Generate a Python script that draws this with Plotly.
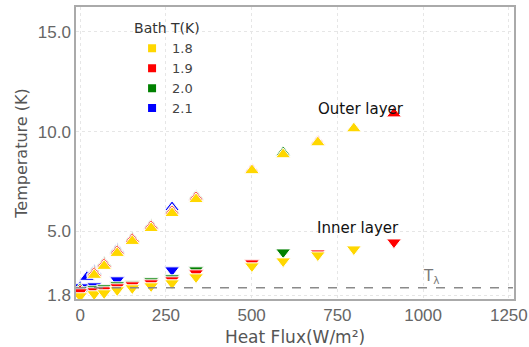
import plotly.graph_objects as go

# Bath temperatures (K)
baths = ["1.8", "1.9", "2.0", "2.1"]
colors = {"1.8": "#FFD700", "1.9": "#FF0000", "2.0": "#008000", "2.1": "#0000FF"}

# Heat flux (W/m^2) per bath temperature
flux_18 = [0, 41, 70, 108, 152, 207, 268, 338, 501, 592, 693, 798]
outer_18 = [None, 2.8, 3.25, 3.9, 4.5, 5.15, 5.9, 6.6, 8.05, 8.85, 9.45, 10.15]
inner_18 = [1.75, 1.85, 1.9, 2.05, 2.15, 2.25, 2.4, 2.7, 3.25, 3.5, 3.8, 4.1]

flux_19 = [0, 41, 70, 108, 152, 207, 268, 338, 501, 693, 915]
outer_19 = [2.0, 2.9, 3.35, 4.0, 4.6, 5.25, 6.0, 6.7, 8.1, 9.5, 10.9]
inner_19 = [1.95, 2.0, 2.05, 2.2, 2.3, 2.4, 2.55, 2.9, 3.4, 3.9, 4.45]

flux_20 = [0, 41, 70, 108, 152, 207, 268, 338, 592]
outer_20 = [2.1, 2.95, 3.4, 4.05, 4.65, 5.3, 6.05, 6.75, 8.95]
inner_20 = [2.05, 2.1, 2.15, 2.3, 2.35, 2.5, 2.65, 3.05, 3.95]

flux_21 = [0, 20, 41, 108, 268]
outer_21 = [2.2, 2.7, 3.0, 4.1, 6.2]
inner_21 = [2.2, 2.2, 2.25, 2.55, 3.05]

data = {
    "1.8": (flux_18, outer_18, inner_18),
    "1.9": (flux_19, outer_19, inner_19),
    "2.0": (flux_20, outer_20, inner_20),
    "2.1": (flux_21, outer_21, inner_21),
}

T_lambda = 2.17
x_ticks = [0, 250, 500, 750, 1000, 1250]
y_ticks = [1.8, 5.0, 10.0, 15.0]
y_tick_text = ["1.8", "5.0", "10.0", "15.0"]

TICKFONT = "Liberation Sans"

fig = go.Figure()

# draw highest bath first so 1.8 K sits on top
for b in reversed(baths):
    fx, fo, fi = data[b]
    fig.add_trace(go.Scatter(
        x=fx, y=fo, mode="markers", showlegend=False,
        marker=dict(symbol="triangle-up", size=13, color=colors[b],
                    line=dict(color="white", width=1))))
    fig.add_trace(go.Scatter(
        x=fx, y=fi, mode="markers", showlegend=False,
        marker=dict(symbol="triangle-down", size=13, color=colors[b],
                    line=dict(color="white", width=1))))

# legend entries with square symbols
for b in baths:
    fig.add_trace(go.Scatter(
        x=[None], y=[None], mode="markers", name=b,
        marker=dict(symbol="square", size=8, color=colors[b])))

# T_lambda dashed line
fig.add_trace(go.Scatter(
    x=[-12, 1262], y=[T_lambda, T_lambda], mode="lines", showlegend=False,
    line=dict(color="#8a8a8a", width=1.5, dash="dash"), hoverinfo="skip"))

fig.add_annotation(x=915, y=10.9, text="Outer layer", showarrow=False,
                   xanchor="right", yanchor="bottom", xshift=12, yshift=-6,
                   font=dict(size=15, color="#111"))
fig.add_annotation(x=798, y=4.1, text="Inner layer", showarrow=False,
                   xanchor="center", yanchor="bottom", xshift=4, yshift=10,
                   font=dict(size=15, color="#111"))
fig.add_annotation(x=1000, y=T_lambda, text="T<sub>λ</sub>", showarrow=False,
                   xanchor="center", yanchor="bottom", xshift=8, yshift=0,
                   font=dict(size=15, color="#777"))

fig.update_layout(
    width=529, height=347,
    margin=dict(l=76, r=15, t=7, b=48, autoexpand=False),
    paper_bgcolor="white", plot_bgcolor="white",
    font=dict(family="DejaVu Sans", color="#555"),
    legend=dict(x=0.128, y=0.972, xanchor="left", yanchor="top",
                title=dict(text="Bath T(K)", font=dict(size=14, color="#333")),
                font=dict(size=13, color="#444"), bgcolor="rgba(0,0,0,0)",
                tracegroupgap=0, itemwidth=30),
    xaxis=dict(range=[-12, 1265], tickvals=x_ticks, ticktext=[str(v) for v in x_ticks],
               showgrid=True, gridcolor="#e6e6e6", griddash="dot", zeroline=False,
               showline=True, linecolor="#aaa", linewidth=1.5, mirror=True,
               ticks="", tickfont=dict(size=17, color="#666", family=TICKFONT),
               automargin=False, ticklabeloverflow="allow",
               title=dict(text="Heat Flux(W/m²)", font=dict(size=17, color="#555"), standoff=7)),
    yaxis=dict(range=[1.6, 16.25], tickvals=y_ticks, ticktext=y_tick_text,
               showgrid=True, gridcolor="#e6e6e6", griddash="dot", zeroline=False,
               showline=True, linecolor="#aaa", linewidth=1.5, mirror=True,
               ticks="", tickfont=dict(size=17, color="#666", family=TICKFONT),
               automargin=False, ticklabeloverflow="allow",
               title=dict(text="Temperature (K)", font=dict(size=16, color="#555"), standoff=6)),
)

fig.write_html("out.html")
